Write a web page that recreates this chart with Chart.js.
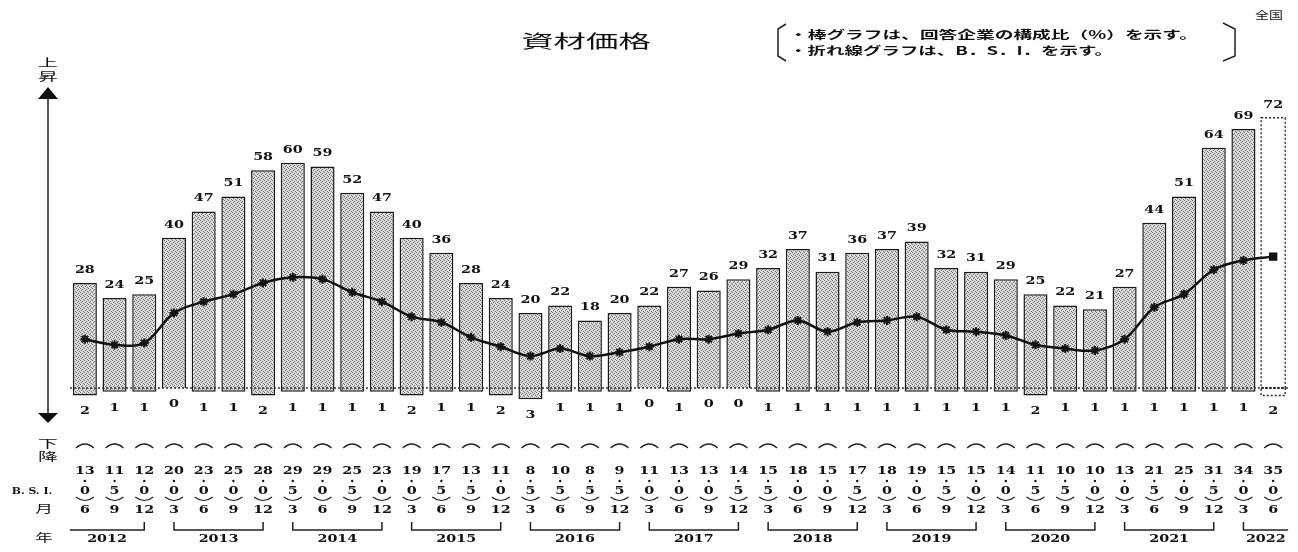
<!DOCTYPE html>
<html>
<head>
<meta charset="utf-8">
<script src="https://cdn.jsdelivr.net/npm/chart.js@4"></script>
<style>
  html, body { margin: 0; padding: 0; background: #fff; }
  #wrap { width: 1298px; height: 552px; position: relative; }
</style>
</head>
<body>
<div id="wrap"><canvas id="barChart"></canvas></div>
<script>
// quarters (month) and years
const months = [6, 9, 12,
    3, 6, 9, 12, 3, 6, 9, 12, 3, 6, 9, 12, 3, 6, 9, 12, 3, 6, 9, 12,
    3, 6, 9, 12, 3, 6, 9, 12, 3, 6, 9, 12, 3, 6, 9, 12,
    3, 6];
const years = [2012, 2013, 2014, 2015, 2016, 2017, 2018, 2019, 2020, 2021, 2022];

// share of companies answering "rising" (%)
const upValues = [28, 24, 25, 40, 47, 51, 58, 60, 59, 52, 47, 40, 36, 28, 24, 20, 22, 18, 20, 22,
    27, 26, 29, 32, 37, 31, 36, 37, 39, 32, 31, 29, 25, 22, 21, 27, 44, 51, 64, 69, 72];

// share of companies answering "falling" (%)
const downValues = [2, 1, 1, 0, 1, 1, 2, 1, 1, 1, 1, 2, 1, 1, 2, 3, 1, 1, 1, 0,
    1, 0, 0, 1, 1, 1, 1, 1, 1, 1, 1, 1, 2, 1, 1, 1, 1, 1, 1, 1, 2];

// B.S.I.
const bsiValues = [13.0, 11.5, 12.0, 20.0, 23.0, 25.0, 28.0, 29.5, 29.0, 25.5, 23.0, 19.0, 17.5, 13.5,
    11.0, 8.5, 10.5, 8.5, 9.5, 11.0, 13.0, 13.0, 14.5, 15.5, 18.0, 15.0, 17.5, 18.0, 19.0, 15.5,
    15.0, 14.0, 11.5, 10.5, 10.0, 13.0, 21.5, 25.0, 31.5, 34.0, 35.0];

const labels = months.map(m => String(m));
const last = upValues.length - 1; // forecast column

// halftone-like fill for the bars
const pc = document.createElement('canvas');
pc.width = 4; pc.height = 4;
const pg = pc.getContext('2d');
pg.fillStyle = '#dcdcdc';
pg.fillRect(0, 0, 4, 4);
pg.fillStyle = '#6e6e6e';
[[0, 0], [2, 1], [1, 2], [3, 3]].forEach(([a, b]) => pg.fillRect(a, b, 1, 1));
const halftone = pg.createPattern(pc, 'repeat');

const barFill = upValues.map((v, i) => i === last ? '#ffffff' : halftone);
const barBorder = upValues.map((v, i) => i === last ? 'rgba(0,0,0,0)' : '#1a1a1a');

const numFont = 'bold 11px "DejaVu Serif"';
const jpFont = '"Noto Sans CJK JP"';

// text squeezed wider, like the scanned original
function txt(ctx, s, x, y, font, sx, align) {
    ctx.save();
    ctx.font = font;
    ctx.fillStyle = '#111';
    ctx.textAlign = align || 'center';
    ctx.textBaseline = 'middle';
    ctx.translate(x, y);
    ctx.scale(sx, 1);
    ctx.fillText(s, 0, 0);
    ctx.restore();
}

const decorPlugin = {
    id: 'decor',
    afterDatasetsDraw(chart) {
        const ctx = chart.ctx;
        const ys = chart.scales.y;
        const y0 = ys.getPixelForValue(0);
        const area = chart.chartArea;

        // dotted zero line
        ctx.save();
        ctx.strokeStyle = '#333';
        ctx.lineWidth = 1.5;
        ctx.setLineDash([2, 2]);
        ctx.beginPath();
        ctx.moveTo(area.left, y0);
        ctx.lineTo(area.right, y0);
        ctx.stroke();
        ctx.restore();

        // dashed outline for forecast column
        [0, 1].forEach(d => {
            const el = chart.getDatasetMeta(d).data[last];
            const top = Math.min(el.y, el.base), h = Math.abs(el.base - el.y);
            if (h < 0.5) return;
            ctx.save();
            ctx.strokeStyle = '#222';
            ctx.lineWidth = 1.3;
            ctx.setLineDash([2, 2]);
            ctx.strokeRect(el.x - el.width / 2, top, el.width, h);
            ctx.restore();
        });
    },
    afterDraw(chart) {
        const ctx = chart.ctx;
        const xs = chart.scales.x;
        const upMeta = chart.getDatasetMeta(0).data;
        const dnMeta = chart.getDatasetMeta(1).data;

        // values above / below the bars
        upValues.forEach((v, i) => {
            txt(ctx, String(v), upMeta[i].x, upMeta[i].y - 13, numFont, 1.3);
        });
        downValues.forEach((v, i) => {
            txt(ctx, String(v), dnMeta[i].x, dnMeta[i].y + 16, numFont, 1.3);
        });

        // vertical arrow axis
        ctx.save();
        ctx.strokeStyle = '#222';
        ctx.fillStyle = '#111';
        ctx.lineWidth = 1.5;
        ctx.beginPath();
        ctx.moveTo(48, 97);
        ctx.lineTo(48, 414);
        ctx.stroke();
        ctx.beginPath();
        ctx.moveTo(48, 87); ctx.lineTo(58, 99); ctx.lineTo(38, 99); ctx.closePath();
        ctx.fill();
        ctx.beginPath();
        ctx.moveTo(38, 413); ctx.lineTo(58, 413); ctx.lineTo(48, 423); ctx.closePath();
        ctx.fill();
        ctx.restore();

        txt(ctx, '上', 48, 63, '11px ' + jpFont, 1.8);
        txt(ctx, '昇', 48, 77, '11px ' + jpFont, 1.8);
        txt(ctx, '下', 48, 444, '11px ' + jpFont, 1.8);
        txt(ctx, '降', 48, 457, '11px ' + jpFont, 1.8);
        txt(ctx, 'B. S. I.', 32, 492, 'bold 9px "DejaVu Serif"', 1.2);
        txt(ctx, '月', 44, 509, '11px ' + jpFont, 1.6);
        txt(ctx, '年', 44, 538, '11px ' + jpFont, 1.6);

        // B.S.I. table under the chart
        ctx.save();
        ctx.strokeStyle = '#222';
        ctx.lineWidth = 1.2;
        bsiValues.forEach((b, i) => {
            const x = xs.getPixelForValue(i);
            ctx.beginPath();
            ctx.moveTo(x - 9, 448);
            ctx.quadraticCurveTo(x, 440, x + 9, 448);
            ctx.stroke();
            ctx.beginPath();
            ctx.moveTo(x - 9, 497);
            ctx.quadraticCurveTo(x, 504, x + 9, 497);
            ctx.stroke();
            ctx.beginPath();
            ctx.arc(x, 481, 1.2, 0, Math.PI * 2);
            ctx.fillStyle = '#111';
            ctx.fill();
            const ip = Math.floor(b);
            const dp = Math.round((b - ip) * 10);
            txt(ctx, String(ip), x, 471, numFont, 1.3);
            txt(ctx, String(dp), x, 491, numFont, 1.3);
            txt(ctx, String(months[i]), x, 510, numFont, 1.3);
        });
        ctx.restore();

        // year brackets
        let start = 0;
        years.forEach(yr => {
            const n = yr === 2012 ? 3 : (yr === 2022 ? 2 : 4);
            const end = start + n - 1;
            let xa = xs.getPixelForValue(start);
            let xb = xs.getPixelForValue(end);
            ctx.save();
            ctx.strokeStyle = '#222';
            ctx.lineWidth = 1.5;
            ctx.beginPath();
            if (yr === 2012) {
                xa = xa - 15;
                ctx.moveTo(xa, 530); ctx.lineTo(xb, 530); ctx.lineTo(xb, 522);
            } else if (yr === 2022) {
                xb = xb + 15;
                ctx.moveTo(xa, 522); ctx.lineTo(xa, 530); ctx.lineTo(xb, 530);
            } else {
                ctx.moveTo(xa, 522); ctx.lineTo(xa, 530); ctx.lineTo(xb, 530); ctx.lineTo(xb, 522);
            }
            ctx.stroke();
            ctx.restore();
            txt(ctx, String(yr), (xa + xb) / 2, 539, numFont, 1.3);
            start = end + 1;
        });

        // title and notes
        txt(ctx, '資材価格', 586, 41, '18px ' + jpFont, 1.8);
        txt(ctx, '全国', 1269, 15, '10px ' + jpFont, 1.4);

        ctx.save();
        ctx.strokeStyle = '#222';
        ctx.lineWidth = 1.5;
        ctx.beginPath();
        ctx.moveTo(786, 24); ctx.lineTo(778, 29); ctx.lineTo(778, 56); ctx.lineTo(786, 61);
        ctx.stroke();
        ctx.beginPath();
        ctx.moveTo(1223, 23); ctx.lineTo(1235, 29); ctx.lineTo(1235, 56); ctx.lineTo(1223, 61);
        ctx.stroke();
        ctx.restore();
        txt(ctx, '・棒グラフは、回答企業の構成比（%）を示す。', 789, 35, 'bold 11px ' + jpFont, 1.7, 'left');
        txt(ctx, '・折れ線グラフは、B．S．I．を示す。', 789, 51, 'bold 11px ' + jpFont, 1.68, 'left');
    }
};

const chartData = {
    labels: labels,
    datasets: [
        {
            type: 'bar',
            label: '上昇',
            data: upValues,
            backgroundColor: barFill,
            borderColor: barBorder,
            borderWidth: 1.5,
            grouped: false,
            order: 2,
        },
        {
            type: 'bar',
            label: '下降',
            data: downValues.map(v => -v),
            backgroundColor: barFill,
            borderColor: barBorder,
            borderWidth: 1.5,
            grouped: false,
            order: 3,
        },
        {
            type: 'line',
            label: 'B.S.I.',
            data: bsiValues,
            borderColor: '#111',
            borderWidth: 2.5,
            tension: 0.35,
            pointStyle: bsiValues.map((v, i) => i === last ? 'rect' : 'star'),
            pointRadius: 4.5,
            pointBorderColor: '#111',
            pointBackgroundColor: '#111',
            pointBorderWidth: 2,
            order: 0,
        },
    ],
};

const chartOptions = {
    responsive: true,
    maintainAspectRatio: false,
    animation: false,
    layout: {
        padding: { top: 99, bottom: 134, left: 70, right: 10 },
    },
    datasets: {
        bar: {
            barPercentage: 0.81,
            categoryPercentage: 1.0,
        },
    },
    scales: {
        x: { display: false, offset: true },
        y: { display: false, min: -8, max: 77 },
    },
    plugins: {
        legend: { display: false },
        tooltip: { enabled: false },
    },
};

const ctx = document.getElementById('barChart').getContext('2d');
const barChart = new Chart(ctx, {
    type: 'bar',
    data: chartData,
    options: chartOptions,
    plugins: [decorPlugin],
});
</script>
</body>
</html>
